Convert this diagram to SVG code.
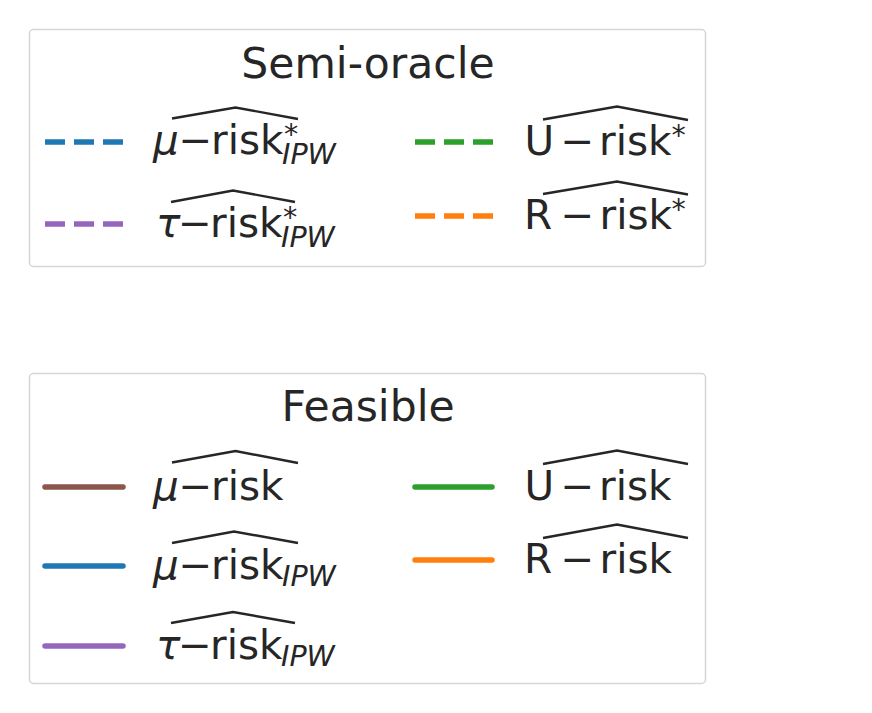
<svg xmlns="http://www.w3.org/2000/svg" width="872" height="713" viewBox="0 0 872 713">
<style>
text{font-family:"DejaVu Sans","Liberation Sans",sans-serif;fill:#262626}
.t{font-size:42.5px;text-anchor:middle}
.m{font-size:40.5px}
.s{font-size:28.5px}
.it{font-style:italic}
.box{fill:#ffffff;stroke:#d6d6d6;stroke-width:1.5}
.hat{fill:none;stroke:#262626;stroke-width:2.4;stroke-linejoin:miter}
.dash{fill:none;stroke-width:5.5;stroke-dasharray:20 9;stroke-linecap:butt}
.sol{fill:none;stroke-width:5.5;stroke-linecap:round}
</style>
<rect width="872" height="713" fill="#ffffff"/>
<g id="legend-semi-oracle">
<rect class="box" x="29.5" y="29.5" width="676" height="237" rx="4"/>
<text class="t" x="368" y="78">Semi-oracle</text>
</g>
<g id="legend-feasible">
<rect class="box" x="29.5" y="373.5" width="676" height="310" rx="4"/>
<text class="t" x="368" y="421">Feasible</text>
</g>
<g id="connectors">
<path class="dash" stroke="#1f77b4" d="M45 142H124"/>
<path class="dash" stroke="#9467bd" d="M45 224H124"/>
<path class="dash" stroke="#2ca02c" d="M415 142H494"/>
<path class="dash" stroke="#ff7f0e" d="M415 216H494"/>
<path class="sol" stroke="#8c564b" d="M45 487H123"/>
<path class="sol" stroke="#1f77b4" d="M45 566H123"/>
<path class="sol" stroke="#9467bd" d="M45 646H123"/>
<path class="sol" stroke="#2ca02c" d="M415 487H492"/>
<path class="sol" stroke="#ff7f0e" d="M415 560H492"/>
</g>
<g id="semi-mu-ipw">
<polyline class="hat" points="172,118.5 235.5,107.5 298,119"/>
<text class="m"><tspan class="it" x="153" y="154">μ</tspan><tspan x="178.5" y="154">−</tspan><tspan x="211" y="154">risk</tspan><tspan class="s" x="284" y="144">*</tspan><tspan class="s it" x="282" y="164">IPW</tspan></text>
</g>
<g id="semi-tau-ipw">
<polyline class="hat" points="171,202 233,190.5 295,202"/>
<text class="m"><tspan class="it" x="156" y="237">τ</tspan><tspan x="178" y="237">−</tspan><tspan x="210" y="237">risk</tspan><tspan class="s" x="283" y="227">*</tspan><tspan class="s it" x="281" y="247">IPW</tspan></text>
</g>
<g id="semi-u">
<polyline class="hat" points="543,119.5 617,106.5 688,120"/>
<text class="m"><tspan x="524.5" y="155">U</tspan><tspan x="560.5" y="155">−</tspan><tspan x="599" y="155">risk</tspan><tspan class="s" x="671.5" y="145">*</tspan></text>
</g>
<g id="semi-r">
<polyline class="hat" points="543,194 617,181.5 688,194.5"/>
<text class="m"><tspan x="524" y="229">R</tspan><tspan x="560.5" y="229">−</tspan><tspan x="599.5" y="229">risk</tspan><tspan class="s" x="671.5" y="219">*</tspan></text>
</g>
<g id="feasible-mu">
<polyline class="hat" points="172,462.5 235.5,451 298,463"/>
<text class="m" y="500"><tspan class="it" x="153">μ</tspan><tspan x="178.5">−</tspan><tspan x="211">risk</tspan></text>
</g>
<g id="feasible-mu-ipw">
<polyline class="hat" points="172,543 234,531.5 298,543"/>
<text class="m"><tspan class="it" x="153" y="579">μ</tspan><tspan x="178.5" y="579">−</tspan><tspan x="211" y="579">risk</tspan><tspan class="s it" x="282" y="586">IPW</tspan></text>
</g>
<g id="feasible-tau-ipw">
<polyline class="hat" points="171,623 233,612 295,623"/>
<text class="m"><tspan class="it" x="156" y="659">τ</tspan><tspan x="178" y="659">−</tspan><tspan x="210" y="659">risk</tspan><tspan class="s it" x="281" y="666">IPW</tspan></text>
</g>
<g id="feasible-u">
<polyline class="hat" points="543,464 617,450.5 688,464"/>
<text class="m" y="500"><tspan x="524.5">U</tspan><tspan x="560.5">−</tspan><tspan x="599">risk</tspan></text>
</g>
<g id="feasible-r">
<polyline class="hat" points="543,538 617,524.5 688,538"/>
<text class="m" y="573"><tspan x="524">R</tspan><tspan x="560.5">−</tspan><tspan x="599.5">risk</tspan></text>
</g>
</svg>
